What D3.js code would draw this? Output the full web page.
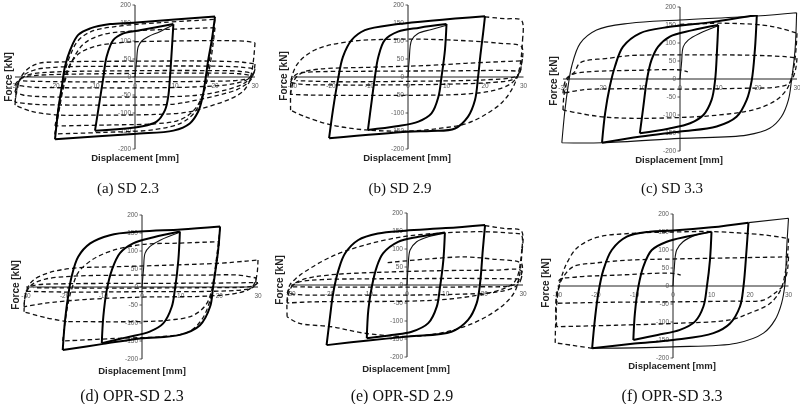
<!DOCTYPE html>
<html><head><meta charset="utf-8">
<script src="https://cdn.jsdelivr.net/npm/d3@7/dist/d3.min.js"></script>
<style>body{margin:0;background:#fff}svg{display:block}.tk{opacity:0.99;will-change:transform}</style>
</head><body><svg id="chart" width="800" height="404"></svg>
<script>
// ---------- tick labels & captions ----------
const xTicks = [-30,-20,-10,0,10,20,30];
const yTicks = [-200,-150,-100,-50,0,50,100,150,200];
const captions = ["(a) SD 2.3","(b) SD 2.9","(c) SD 3.3","(d) OPR-SD 2.3","(e) OPR-SD 2.9","(f) OPR-SD 3.3"];
const xTitle = "Displacement [mm]";
const yTitle = "Force [kN]";

// ---------- (a) SD 2.3 : [displacement mm, force kN] ----------
const aInit = [[0,0],[0.4,45],[0.8,84],[1.7,100],[3.3,112],[6.2,126],[9.6,145]];
const aLoop10 = [[9.6,147],[9.2,75],[8.75,0],[8.3,-55],[7.5,-92],[5.4,-124],[1.2,-138],[-10,-149],[-8.8,-64],[-7.9,0],[-7.1,56],[-5.4,103],[-2.9,121],[1.2,130],[9.6,147]];
const aLoop20 = [[20,168],[19.2,103],[18.3,47],[17.7,0],[16.9,-55],[15.8,-96],[13.7,-129],[9.6,-149],[-0.4,-158],[-20,-173],[-19.2,-92],[-18.3,-27],[-17.5,29],[-16.2,75],[-14.2,117],[-11.2,135],[-6.2,147],[-0.4,151],[20,168]];
const aDashed = [
  [[-20,-160],[-19.3,-100],[-18.4,-35],[-17.5,15],[-16.2,60],[-14.3,100],[-11,126],[-5,140],[5,150],[20,160],[19.3,100],[18.5,40],[17.7,-10],[16.6,-60],[14.8,-100],[11.5,-128],[5,-146],[-8,-154],[-20,-158]],
  [[-20,-158],[-19,-95],[-18,-35],[-16.8,15],[-15,60],[-12.5,95],[-8,118],[0,128],[10,133],[20,137],[19.5,90],[18.8,35],[18,-10],[16.8,-55],[14.5,-95],[11,-120],[5,-130],[-5,-133],[-20,-136]],
  [[-20,-136],[-18.8,-70],[-17.8,-15],[-16.5,30],[-14,65],[-10,85],[-3,96],[10,100],[22,101],[28,99],[30,95],[29.7,55],[29.2,15],[28.5,-15],[27,-40],[24,-60],[19,-80],[13,-98],[5,-104],[-10,-106],[-20,-105],[-26,-95],[-30,-78]],
  [[-30,-78],[-29.7,-45],[-29.2,-18],[-28.2,5],[-26.5,25],[-24,38],[-18,42],[0,44],[20,44],[27,41],[30,36],[29.7,12],[29.1,-5],[28,-18],[25.5,-35],[21,-50],[15,-65],[10,-75],[0,-78],[-15,-78],[-25,-76],[-30,-70]],
  [[-30,-70],[-29.6,-40],[-29,-15],[-27.8,5],[-25,20],[-20,27],[0,30],[20,30],[27,27],[30,22],[29.5,5],[28.5,-8],[26.5,-22],[22,-38],[16,-50],[8,-55],[-10,-56],[-22,-55],[-28,-50],[-30,-42]],
  [[-30,-42],[-29.4,-20],[-28.3,-3],[-26,8],[-20,14],[-5,17],[15,18],[26,16],[29.5,10],[29,0],[27.5,-10],[24,-20],[16,-27],[5,-30],[-15,-30],[-26,-28],[-30,-22]],
  [[-30,-22],[-29,-8],[-27.5,0],[-24,5],[-15,8],[0,10],[15,11],[26,9],[29,4],[28.5,-3],[26,-9],[18,-12],[0,-13],[-20,-13],[-28,-11]]
];

// ---------- (b) SD 2.9 ----------
const bInit = [[0,0],[0.3,45],[0.95,103],[2.6,121],[6.1,132],[10,144]];
const bLoop10 = [[10,147],[9.6,75],[8.7,0],[7.9,-55],[6.1,-101],[2.7,-124],[-3,-137],[-10.4,-147],[-9.4,-64],[-8.6,0],[-7.7,56],[-6,103],[-2.6,126],[3,137],[10,147]];
const bLoop20 = [[20,169],[19.5,121],[18.8,60],[18.2,0],[17.4,-64],[15.6,-110],[12.2,-143],[6,-150],[0,-152],[-20.5,-170],[-19.5,-92],[-18.2,-8],[-16.9,56],[-14.6,103],[-11.2,130],[-2.6,147],[20,169]];
const bDashed = [
  [[20,167],[25,162],[29.5,157],[29.8,110],[29.3,45],[28.5,5],[27.2,-30],[24.5,-70],[20,-105],[15,-130],[8,-143],[0,-150],[-11,-147],[-20,-133],[-26.8,-110],[-30.5,-92]],
  [[-30.5,-92],[-30.5,-40],[-30.3,-5],[-28.6,38],[-24.2,75],[-15.6,98],[-2.6,105],[10.4,103],[23.4,94],[29.5,84],[29.7,50],[29.2,20],[28.3,0],[26.5,-20],[22,-38],[14,-48],[0,-51],[-15,-51],[-26,-50],[-30.5,-48]],
  [[-30.5,-48],[-30,-20],[-29,0],[-27,14],[-23,22],[-10,27],[5,32],[15,38],[25,43],[29.5,45],[29.3,20],[28.5,2],[27,-8],[22,-15],[10,-20],[-5,-22],[-20,-22],[-28,-20],[-30.5,-15]],
  [[-30.5,-15],[-29.8,0],[-28.5,10],[-25,14],[-10,16],[10,17],[25,18],[29,16],[28.5,5],[27,-2],[20,-8],[0,-12],[-20,-13],[-29,-10]]
];

// ---------- (c) SD 3.3 ----------
const cInit = [[0,0],[0.4,45],[0.85,90],[2.1,108],[5.1,127],[9.8,148]];
const cLoop10 = [[9.8,150],[9.5,81],[9,-3],[8.1,-58],[6,-100],[2.6,-123],[-3,-138],[-10.3,-151],[-9.4,-77],[-8.5,-3],[-7.3,53],[-5.6,90],[-2.6,118],[3,135],[9.8,150]];
const cLoop20 = [[19.7,178],[19.2,81],[18.4,-3],[17.1,-58],[14.5,-105],[9.4,-132],[0,-146],[-10,-160],[-20,-177],[-19.2,-95],[-18,-21],[-16.7,34],[-14.6,90],[-10.3,127],[-2.6,145],[8,158],[19.7,178]];
const cLoop30 = [[29.9,184],[29.5,81],[28.6,-3],[27.8,-58],[26,-105],[23,-137],[17.1,-156],[0,-165],[-20,-177],[-30.3,-177],[-29.5,-86],[-28.7,-21],[-27.8,34],[-25.6,99],[-21.4,136],[-12.8,155],[0,164],[19.7,175],[29.9,184]];
const cDashed = [
  [[0,152],[5,153],[10,155],[21,150],[26,140],[30,127],[29.8,90],[29.3,40],[28.5,0],[27.3,-30],[24.5,-60],[19,-85],[10,-100],[0,-107],[-12.8,-109],[-20,-105],[-26,-95],[-30,-86]],
  [[-30,-86],[-29.8,-50],[-29.3,-20],[-28.5,5],[-27,20],[-25.6,45],[-18,58],[-12.8,65],[5,67],[18,66],[27,62],[30,58],[29.7,30],[29,5],[28,-12],[25,-22],[15,-26],[0,-28],[-15,-27],[-25,-30],[-30,-40]],
  [[-30,-40],[-29.6,-12],[-28.8,5],[-27,15],[-22,21],[-12,24],[0,25],[2,20]]
];

// ---------- (d) OPR-SD 2.3 ----------
const dInit = [[0,0],[0.4,50],[0.8,94],[2,112],[4.7,130],[9.8,152]];
const dLoop10 = [[9.8,154],[9.4,75],[8.5,-8],[7.7,-55],[5.5,-101],[2,-124],[-4,-140],[-10.4,-156],[-10,-82],[-9.1,-8],[-7.8,47],[-5.7,94],[-2.3,121],[3,138],[9.8,154]];
const dLoop20 = [[20.2,168],[19.7,103],[18.4,1],[17.6,-55],[15,-106],[9.8,-133],[-0.5,-143],[-10,-158],[-20.5,-175],[-19.9,-92],[-19,-18],[-18.2,29],[-16.5,84],[-13.4,121],[-8.3,144],[-0.5,154],[10,160],[20.2,168]];
const dDashed = [
  [[20.2,166],[19.5,100],[18.5,20],[17.5,-40],[15.5,-90],[12,-125],[5,-138],[-5,-142],[-20.5,-150],[-19.8,-90],[-19,-40],[-18,0],[-16.5,40],[-13,75],[-8,100],[0,118],[10,122],[20,126],[19.5,80],[18.8,30],[18,-10],[16.5,-50],[13,-80],[7,-92],[0,-96],[-19.5,-96]],
  [[-19.5,-96],[-25,-85],[-30.5,-69],[-30.3,-30],[-29.5,0],[-28,20],[-24,40],[-18,52],[-8,56],[5,60],[20,66],[27,72],[30,75],[29.8,40],[29.3,15],[28.5,0],[27,-10],[23,-20],[15,-26],[0,-28],[-15,-35],[-25,-45],[-30.5,-55]],
  [[-30.5,-55],[-30.2,-25],[-29.5,-5],[-28,10],[-25,22],[-18,30],[0,33],[15,33],[25,33],[29.5,25],[29.3,8],[28.5,-2],[26,-8],[18,-12],[0,-13],[-20,-14],[-30,-12]],
  [[-30,-12],[-29,0],[-27,6],[-20,9],[0,10],[20,11],[28,12],[30,12],[29,4],[27,0],[15,-2],[-10,-3],[-28,-2]]
];

// ---------- (e) OPR-SD 2.9 ----------
const eInit = [[0,0],[0.3,50],[0.8,97],[2.5,120],[5.5,134],[9.8,144]];
const eLoop10 = [[9.8,146],[9.4,69],[8.5,-9],[7.7,-60],[5.5,-106],[1.2,-130],[-4,-139],[-10.4,-148],[-10,-69],[-9.1,-5],[-7.8,51],[-6.2,88],[-2.3,120],[3,134],[9.8,146]];
const eLoop20 = [[20.2,167],[19.6,97],[18.9,5],[18,-51],[15.8,-97],[11.5,-130],[0.3,-143],[-10,-154],[-20.8,-167],[-19.9,-88],[-19.1,-23],[-17.7,42],[-16,88],[-12.6,125],[-7.5,143],[-0.5,151],[10,158],[20.2,167]];
const eDashed = [
  [[20.2,165],[25,157],[29.6,150],[29.8,100],[29.4,50],[28.8,10],[27.8,-20],[25.5,-50],[21,-85],[15,-115],[8,-135],[0.3,-143],[-10.9,-134],[-19.5,-116],[-28,-106],[-31,-88]],
  [[-31,-88],[-31,-40],[-30.3,0],[-28.5,20],[-26.4,37],[-19.5,79],[-10.9,111],[-0.5,135],[10,145],[19.3,148],[27,144],[29.6,139],[29.7,100],[29.3,60],[28.6,25],[27.5,5],[25,-10],[20,-25],[10,-40],[0,-45],[-15,-46],[-25,-47],[-31,-50]],
  [[-31,-50],[-30.5,-20],[-29.5,0],[-27,15],[-20,28],[-5,36],[10,40],[22,41],[29.5,40],[29.6,20],[29,5],[27.5,-8],[23,-20],[12,-26],[0,-28],[-15,-28],[-28,-27],[-31,-22]],
  [[-31,-22],[-30,-5],[-28,8],[-22,15],[-10,17],[5,18],[20,18],[29,17],[28.5,6],[27,-2],[18,-5],[0,-6],[-20,-6],[-30,-5]],
  [[-5,62],[5,72],[15,78],[22,72],[29.6,60],[29.8,40],[29.5,25]]
];

// ---------- (f) OPR-SD 3.3 ----------
const fInit = [[0,0],[0.3,45],[0.95,100],[2.6,123],[6.1,142],[10,150]];
const fLoop10 = [[10,151],[9.6,72],[8.8,-2],[7.9,-57],[5.7,-99],[1.8,-122],[-4,-136],[-10.3,-150],[-9.9,-76],[-9,-2],[-7.7,54],[-5.5,100],[-1.6,123],[4,138],[10,151]];
const fLoop20 = [[19.6,176],[19.1,100],[18.3,-2],[17.4,-57],[14.8,-104],[10.5,-131],[0,-150],[-10,-160],[-21,-173],[-20.3,-94],[-19.4,-20],[-18.1,44],[-15.9,100],[-12,137],[-6,151],[0,154],[10,163],[19.6,176]];
const fLoop30 = [[19.6,176],[30,188],[29.5,100],[29.1,7],[28.2,-48],[26.5,-94],[23.5,-131],[16.5,-159],[0,-169],[-10,-172],[-21,-173]];
const fDashed = [
  [[-21,-173],[-26,-165],[-30.6,-158],[-30.5,-110],[-30.2,-50],[-29.6,0],[-28.5,40],[-27.6,63],[-25,105],[-19.8,135],[-11.2,146],[0,150],[10.4,151],[23.5,142],[30,132],[29.8,90],[29.2,40],[28.5,5],[27.5,-20],[25,-50],[20,-75],[14.8,-94],[0,-104],[-15,-109],[-30.2,-113]],
  [[-30.2,-113],[-30.5,-70],[-30.2,-30],[-29.6,0],[-28.5,25],[-25.9,54],[-20,64],[-11.2,72],[0,75],[15,78],[30,81],[29.8,50],[29.2,20],[28.5,0],[27,-15],[23.5,-39],[15,-42],[0,-44],[-15,-45],[-30.4,-48]],
  [[-30.4,-48],[-30.2,-20],[-29.5,0],[-29.5,17],[-25,25],[-15,30],[0,35],[2,30]]
];

// ---------- assemble ----------
const panels = [
  {init:aInit, thick:[aLoop10,aLoop20], thin:[], dashed:aDashed},
  {init:bInit, thick:[bLoop10,bLoop20], thin:[], dashed:bDashed},
  {init:cInit, thick:[cLoop10,cLoop20], thin:[cLoop30], dashed:cDashed},
  {init:dInit, thick:[dLoop10,dLoop20], thin:[], dashed:dDashed},
  {init:eInit, thick:[eLoop10,eLoop20], thin:[], dashed:eDashed},
  {init:fInit, thick:[fLoop10,fLoop20], thin:[fLoop30], dashed:fDashed}
];
const layout = [
  {xr:[15,255],   yr:[149,5],   fx:8,   fy:77,  dx:135, dy:161, cx:128, cy:193, cs:15},
  {xr:[292.5,523.5], yr:[149,5], fx:283, fy:76, dx:407, dy:161, cx:400, cy:193, cs:15},
  {xr:[563,797],  yr:[151,7],   fx:553, fy:81,  dx:679, dy:163, cx:672, cy:193, cs:15},
  {xr:[26,258],   yr:[359,215], fx:15,  fy:285, dx:142, dy:374, cx:132, cy:401, cs:16},
  {xr:[291,523],  yr:[357,213], fx:279, fy:280, dx:406, dy:372, cx:402, cy:401, cs:16},
  {xr:[557.5,788.5], yr:[358,214], fx:545, fy:283, dx:672, dy:369, cx:672, cy:401, cs:16}
];

// split a path at displacement reversals so that smoothing keeps the sharp corners
function branches(pts) {
  const out = [];
  let cur = [pts[0]], last = 0;
  for (let i = 1; i < pts.length; i++) {
    const s = Math.sign(pts[i][0] - pts[i-1][0]);
    if (s !== 0 && last !== 0 && s !== last) { out.push(cur); cur = [pts[i-1]]; }
    cur.push(pts[i]);
    if (s !== 0) last = s;
  }
  out.push(cur);
  return out;
}

const svg = d3.select("#chart");
panels.forEach((p, i) => {
  const L = layout[i];
  const x = d3.scaleLinear().domain([-30,30]).range(L.xr);
  const y = d3.scaleLinear().domain([-200,200]).range(L.yr);
  const g = svg.append("g");
  const line = d3.line().x(d => x(d[0])).y(d => y(d[1])).curve(d3.curveCatmullRom.alpha(0.5));
  const pathOf = c => branches(c).map(b => line(b)).join("");

  // axes
  g.append("line").attr("x1", x(-30)).attr("x2", x(30)).attr("y1", y(0)).attr("y2", y(0))
    .attr("stroke", "#222").attr("stroke-width", 1);
  g.append("line").attr("x1", x(0)).attr("x2", x(0)).attr("y1", y(200)).attr("y2", y(-200))
    .attr("stroke", "#222").attr("stroke-width", 1);
  g.selectAll(".yt").data(yTicks).enter().append("line")
    .attr("x1", x(0) - 2.5).attr("x2", x(0)).attr("y1", d => y(d)).attr("y2", d => y(d))
    .attr("stroke", "#333").attr("stroke-width", 0.8);
  const tk = g.append("g").attr("class", "tk");
  tk.selectAll(".ytl").data(yTicks).enter().append("text")
    .attr("x", x(0) - 4).attr("y", d => y(d) + 2.2).attr("text-anchor", "end")
    .attr("font-family", "Liberation Sans, Arial, sans-serif").attr("font-size", 6.5).attr("fill", "#5a5a5a")
    .text(d => d);
  tk.selectAll(".xtl").data(xTicks).enter().append("text")
    .attr("x", d => x(d)).attr("y", y(0) + 11).attr("text-anchor", "middle")
    .attr("font-family", "Liberation Sans, Arial, sans-serif").attr("font-size", 6.5).attr("fill", "#5a5a5a")
    .text(d => d);

  // curves
  p.dashed.forEach(c => g.append("path").attr("d", pathOf(c)).attr("fill", "none")
    .attr("stroke", "#111").attr("stroke-width", 1.3).attr("stroke-dasharray", "4.5,3"));
  p.thin.forEach(c => g.append("path").attr("d", pathOf(c)).attr("fill", "none")
    .attr("stroke", "#111").attr("stroke-width", 1.1).attr("stroke-linejoin", "round"));
  g.append("path").attr("d", pathOf(p.init)).attr("fill", "none").attr("stroke", "#111").attr("stroke-width", 1.1);
  p.thick.forEach(c => g.append("path").attr("d", pathOf(c)).attr("fill", "none")
    .attr("stroke", "#000").attr("stroke-width", 2).attr("stroke-linejoin", "round"));

  // titles
  g.append("text").attr("transform", `translate(${L.fx},${L.fy}) rotate(-90)`)
    .attr("text-anchor", "middle").attr("dominant-baseline", "central")
    .attr("font-family", "Liberation Sans, Arial, sans-serif").attr("font-weight", "bold")
    .attr("font-size", 10).attr("fill", "#222").text(yTitle);
  g.append("text").attr("x", L.dx).attr("y", L.dy).attr("text-anchor", "middle")
    .attr("font-family", "Liberation Sans, Arial, sans-serif").attr("font-weight", "bold")
    .attr("font-size", 9.5).attr("fill", "#222").text(xTitle);
  svg.append("text").attr("x", L.cx).attr("y", L.cy).attr("text-anchor", "middle")
    .attr("font-family", "Liberation Serif, Times New Roman, serif")
    .attr("font-size", L.cs).attr("fill", "#111").text(captions[i]);
});
</script>
</body></html>
